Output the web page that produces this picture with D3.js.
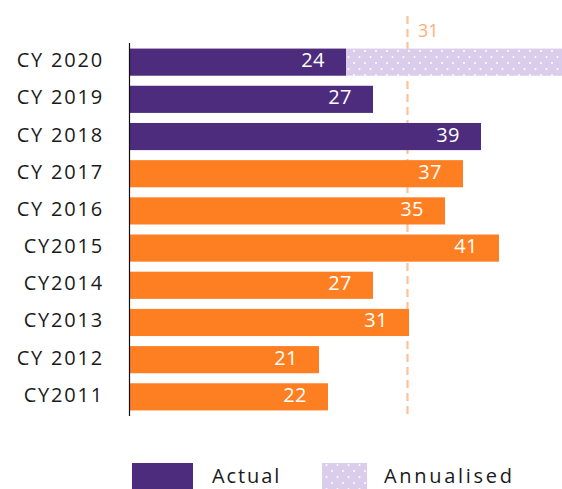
<!DOCTYPE html>
<html><head><meta charset="utf-8">
<script src="https://cdn.jsdelivr.net/npm/d3@7"></script>
<style>body{margin:0;background:#fff}svg{display:block}</style>
</head><body>
<svg id="c" width="562" height="489"></svg>
<script>
const categories = ["CY 2020","CY 2019","CY 2018","CY 2017","CY 2016","CY2015","CY2014","CY2013","CY 2012","CY2011"];
const actual = [24,27,39,37,35,41,27,31,21,22];
const annualised = [48,null,null,null,null,null,null,null,null,null];
const groups = ["purple","purple","purple","orange","orange","orange","orange","orange","orange","orange"];
const refValue = 31;
const legendLabels = ["Actual","Annualised"];

const svg = d3.select("#c");
const font = "'Open Sans', sans-serif";
const colors = {purple:"#4e2c7d", orange:"#fe7f22", lav:"#dacdec", ref:"#ffc195"};

const x = d3.scaleLinear().domain([0,48]).range([130,562]);
const y = d3.scaleBand().domain(categories).range([43,416]).paddingInner(0.27).paddingOuter(0.15);

const defs = svg.append("defs");
const pat = defs.append("pattern").attr("id","dots").attr("patternUnits","userSpaceOnUse")
  .attr("width",11).attr("height",12);
pat.append("rect").attr("width",11).attr("height",12).attr("fill",colors.lav);
pat.append("circle").attr("cx",2).attr("cy",3).attr("r",1).attr("fill","#fff");
pat.append("circle").attr("cx",7.5).attr("cy",9).attr("r",1).attr("fill","#fff");

// ref line (behind bars)
svg.append("line").attr("x1",x(refValue)-1.5).attr("x2",x(refValue)-1.5).attr("y1",16).attr("y2",416)
  .attr("stroke",colors.ref).attr("stroke-width",2.2).attr("stroke-dasharray","8,5");
svg.append("text").attr("x",x(refValue)+9).attr("y",37).attr("fill","#ffae78")
  .attr("font-family",font).attr("font-size",18).text(refValue);

// annualised bars
svg.selectAll("rect.ann").data(categories.map((c,i)=>({c,v:annualised[i],a:actual[i]})).filter(d=>d.v!=null))
  .enter().append("rect").attr("class","ann")
  .attr("x",d=>x(d.a)).attr("y",d=>y(d.c)).attr("width",d=>x(d.v)-x(d.a)).attr("height",y.bandwidth())
  .attr("fill","url(#dots)");

// actual bars
svg.selectAll("rect.act").data(categories.map((c,i)=>({c,v:actual[i],g:groups[i]})))
  .enter().append("rect").attr("class","act")
  .attr("x",x(0)).attr("y",d=>y(d.c)).attr("width",d=>x(d.v)-x(0)).attr("height",y.bandwidth())
  .attr("fill",d=>colors[d.g]);

// value labels
svg.selectAll("text.val").data(categories.map((c,i)=>({c,v:actual[i]})))
  .enter().append("text").attr("class","val")
  .attr("x",d=>x(d.v)-21).attr("y",d=>y(d.c)+y.bandwidth()/2+5)
  .attr("text-anchor","end").attr("fill","#fff").attr("font-family",font).attr("font-size",20)
  .attr("letter-spacing","0.5px")
  .text(d=>d.v);

// y axis
const ax = svg.append("g").attr("transform","translate(130,0)")
  .call(d3.axisLeft(y).tickSize(0).tickPadding(27));
ax.select(".domain").remove();
ax.selectAll("text").attr("font-family",font).attr("font-size",20).attr("fill","#1a1a1a")
  .attr("letter-spacing","1.8px").attr("dy",null).attr("y",5).attr("x",-26);
svg.append("line").attr("x1",129.5).attr("x2",129.5).attr("y1",43).attr("y2",416)
  .attr("stroke","#111").attr("stroke-width",1.2);

// legend
const lg = svg.append("g").attr("font-family",font).attr("font-size",20).attr("fill","#1a1a1a");
lg.append("rect").attr("x",132).attr("y",463).attr("width",61).attr("height",26).attr("fill",colors.purple);
lg.append("text").attr("x",212).attr("y",483).attr("letter-spacing","1.9px").text(legendLabels[0]);
lg.append("rect").attr("x",322).attr("y",463).attr("width",45).attr("height",26).attr("fill","url(#dots)");
lg.append("text").attr("x",384).attr("y",483).attr("letter-spacing","2.7px").text(legendLabels[1]);
</script>
</body></html>
